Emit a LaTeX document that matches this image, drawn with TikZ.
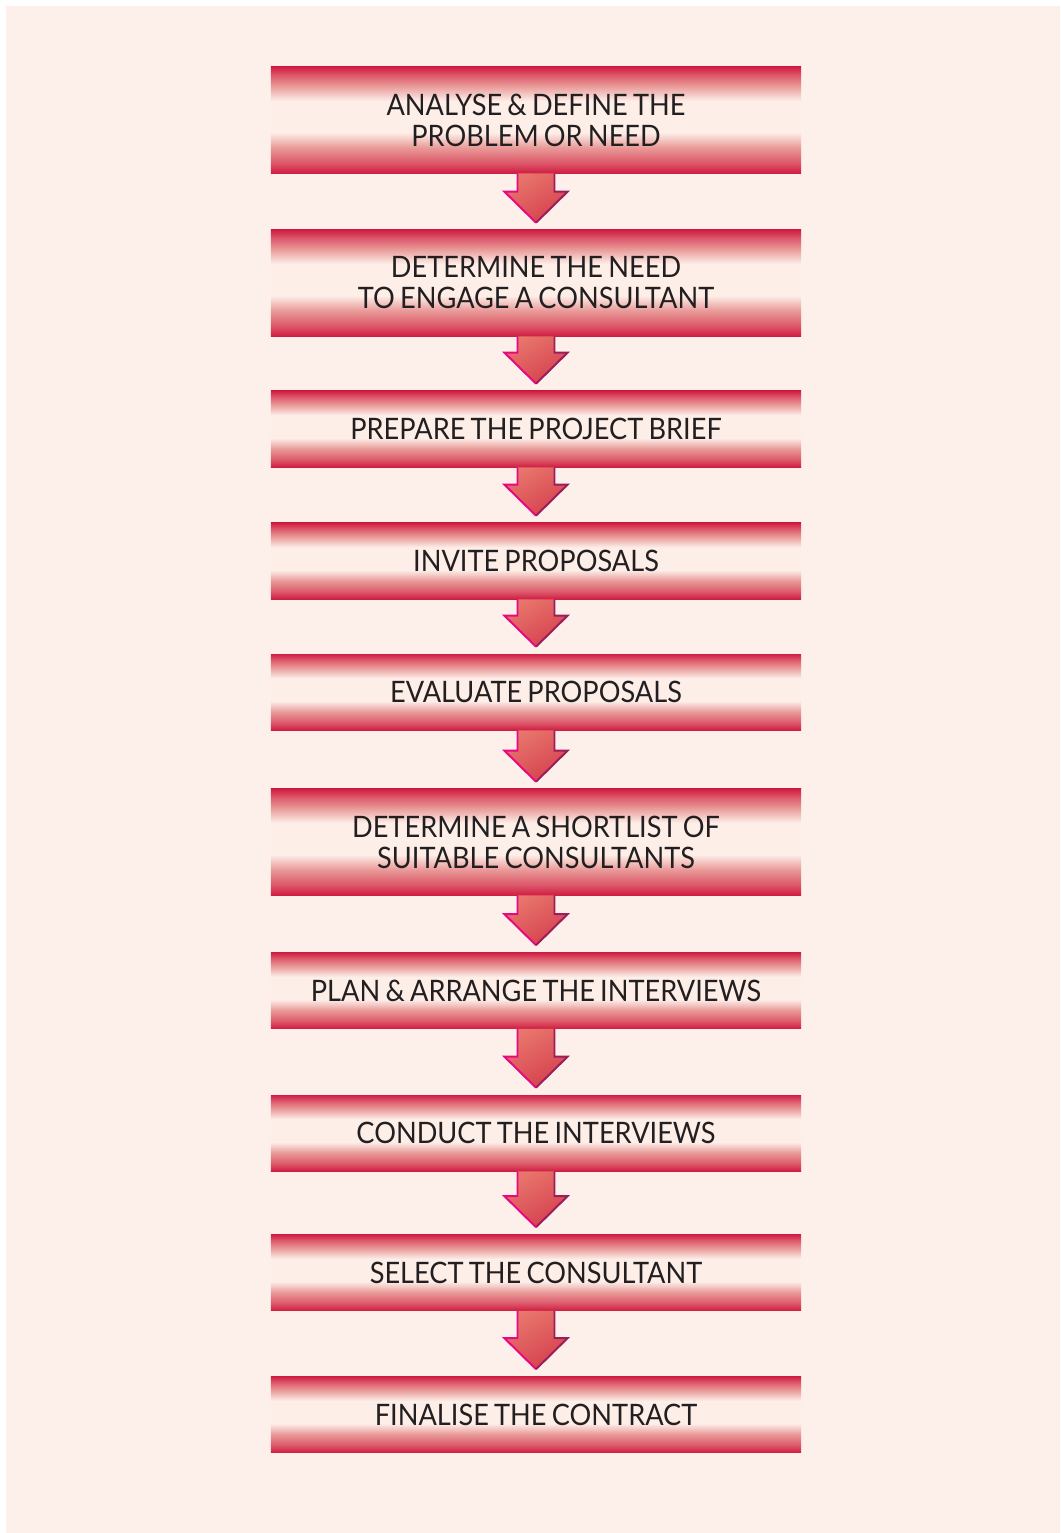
\documentclass[tikz,border=0pt]{standalone}
\usepackage{fontspec}
\setmainfont{Lato}[FakeStretch=0.92, WordSpace=0.75]
\usetikzlibrary{calc}

\definecolor{paper}{HTML}{FDF0EB}
\definecolor{boxred}{HTML}{D01E42}
\definecolor{boxrose}{HTML}{DD5A6C}
\definecolor{boxsalmon}{HTML}{E99A98}
\definecolor{boxlight}{HTML}{FDEEE8}
\definecolor{arrowlight}{HTML}{F8CDCB}
\definecolor{arrowsalmon}{HTML}{E8766C}
\definecolor{arrowred}{HTML}{D5404E}
\definecolor{edgemag}{HTML}{E8087F}
\definecolor{edgedark}{HTML}{9A1D5C}
\definecolor{ink}{HTML}{231F20}

\pgfdeclareverticalshading{boxshade}{100bp}{color(0bp)=(boxred); color(25bp)=(boxred);
  color(30bp)=(boxrose); color(37bp)=(boxsalmon); color(44bp)=(boxlight);
  color(59bp)=(boxlight); color(66bp)=(boxsalmon); color(71bp)=(boxrose);
  color(75bp)=(boxred); color(100bp)=(boxred)}

\tikzset{
  stepbox/.style={shading=boxshade, minimum width=13.25cm, minimum height=1.9cm,
    inner sep=0pt, align=center, text=ink, font=\fontsize{21}{22}\selectfont},
  tallbox/.style={stepbox, minimum height=2.65cm}
}

% down arrow between two steps
\newcommand{\flowarrow}[2]{%
  \path let \p1=(#1.south), \p2=(#2.north) in
    [shading=axis, top color=arrowsalmon, middle color=arrowlight, bottom color=arrowred, shading angle=30]
    (\x1-0.4625cm,\y1) -- (\x1-0.4625cm,\y2+0.95cm) -- (\x1-0.7875cm,\y2+0.95cm)
    -- (\x1,\y2+0.175cm) -- (\x1+0.7875cm,\y2+0.95cm) -- (\x1+0.4625cm,\y2+0.95cm)
    -- (\x1+0.4625cm,\y1) -- cycle;
  \draw[edgemag, line width=1.4pt, line join=miter] let \p1=(#1.south), \p2=(#2.north) in
    (\x1-0.4625cm,\y1) -- (\x1-0.4625cm,\y2+0.95cm) -- (\x1-0.7875cm,\y2+0.95cm) -- (\x1,\y2+0.175cm);
  \draw[edgedark, line width=1.4pt, line join=miter] let \p1=(#1.south), \p2=(#2.north) in
    (\x1,\y2+0.175cm) -- (\x1+0.7875cm,\y2+0.95cm) -- (\x1+0.4625cm,\y2+0.95cm) -- (\x1+0.4625cm,\y1);
}

\begin{document}
\begin{tikzpicture}[x=0.025cm, y=-0.025cm]

% page
\useasboundingbox (0,0) rectangle (1060,1533);
\fill[paper] (6,6) rectangle (1060,1533);

% steps
\node[tallbox] (analyse) at (536,120) {ANALYSE \& DEFINE THE\\PROBLEM OR NEED};
\node[tallbox] (needcons) at (536,283) {DETERMINE THE NEED\\TO ENGAGE A CONSULTANT};
\node[stepbox] (brief) at (536,429) {PREPARE THE PROJECT BRIEF};
\node[stepbox] (invite) at (536,561) {INVITE PROPOSALS};
\node[stepbox] (evaluate) at (536,692) {EVALUATE PROPOSALS};
\node[tallbox] (shortlist) at (536,842) {DETERMINE A SHORTLIST OF\\SUITABLE CONSULTANTS};
\node[stepbox] (plan) at (536,990.5) {PLAN \& ARRANGE THE INTERVIEWS};
\node[stepbox] (conduct) at (536,1133) {CONDUCT THE INTERVIEWS};
\node[stepbox] (select) at (536,1272.5) {SELECT THE CONSULTANT};
\node[stepbox] (finalise) at (536,1414.5) {FINALISE THE CONTRACT};

% arrows
\flowarrow{analyse}{needcons}
\flowarrow{needcons}{brief}
\flowarrow{brief}{invite}
\flowarrow{invite}{evaluate}
\flowarrow{evaluate}{shortlist}
\flowarrow{shortlist}{plan}
\flowarrow{plan}{conduct}
\flowarrow{conduct}{select}
\flowarrow{select}{finalise}

\end{tikzpicture}
\end{document}
